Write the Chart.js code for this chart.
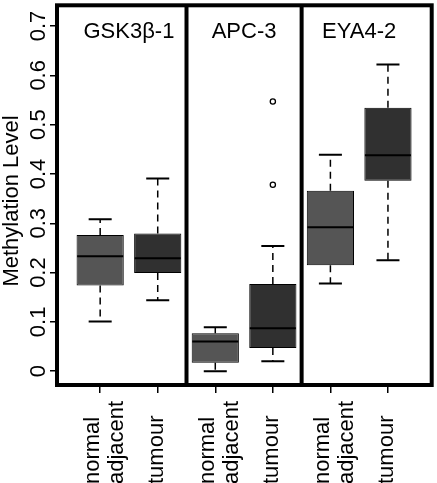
<!DOCTYPE html>
<html>
<head>
<meta charset="utf-8">
<script src="https://cdn.jsdelivr.net/npm/chart.js@4.4.1/dist/chart.umd.min.js"></script>
<style>
  html, body { margin: 0; padding: 0; background: #fff; }
  #wrap { width: 437px; height: 483px; position: relative; }
</style>
</head>
<body>
<div id="wrap"><canvas id="chart"></canvas></div>
<script>
// Three genes, each with normal adjacent / tumour boxes
var panelTitles = ['GSK3\u03b2-1', 'APC-3', 'EYA4-2'];
var panelCentres = [1.5, 3.5, 5.5];
var panelBreaks = [2.5, 4.5];
var groupLabels = [['normal', 'adjacent'], ['tumour'], ['normal', 'adjacent'], ['tumour'], ['normal', 'adjacent'], ['tumour']];
var positions = [1, 2, 3, 4, 5, 6];

var whiskerLow  = [0.101, 0.144, 0.000, 0.020, 0.178, 0.225];
var quartile1   = [0.174, 0.199, 0.017, 0.047, 0.215, 0.386];
var medians     = [0.233, 0.229, 0.060, 0.087, 0.292, 0.438];
var quartile3   = [0.276, 0.279, 0.077, 0.177, 0.366, 0.534];
var whiskerHigh = [0.308, 0.391, 0.089, 0.254, 0.439, 0.622];

var outlierX = [4, 4];
var outlierY = [0.378, 0.547];

var yTicks = [0, 0.1, 0.2, 0.3, 0.4, 0.5, 0.6, 0.7];

var boxColours = ['#555555', '#303030', '#555555', '#303030', '#555555', '#303030'];
var FONT = '"Liberation Sans", Arial, sans-serif';

var boxPlotPlugin = {
  id: 'boxPlot',
  beforeDatasetsDraw: function(chart) {
    var ctx = chart.ctx, xs = chart.scales.x, ys = chart.scales.y;
    ctx.save();
    ctx.strokeStyle = '#000';
    for (var i = 0; i < positions.length; i++) {
      var px = xs.getPixelForValue(positions[i]);
      var capL = xs.getPixelForValue(positions[i] - 0.2);
      var capR = xs.getPixelForValue(positions[i] + 0.2);
      // dashed whiskers
      ctx.lineWidth = 1.5;
      ctx.setLineDash([7, 5]);
      ctx.beginPath();
      ctx.moveTo(px, ys.getPixelForValue(quartile3[i]));
      ctx.lineTo(px, ys.getPixelForValue(whiskerHigh[i]));
      ctx.moveTo(px, ys.getPixelForValue(quartile1[i]));
      ctx.lineTo(px, ys.getPixelForValue(whiskerLow[i]));
      ctx.stroke();
      // caps
      ctx.setLineDash([]);
      ctx.lineWidth = 2;
      ctx.beginPath();
      ctx.moveTo(capL, ys.getPixelForValue(whiskerHigh[i]));
      ctx.lineTo(capR, ys.getPixelForValue(whiskerHigh[i]));
      ctx.moveTo(capL, ys.getPixelForValue(whiskerLow[i]));
      ctx.lineTo(capR, ys.getPixelForValue(whiskerLow[i]));
      ctx.stroke();
    }
    ctx.restore();
  },
  afterDatasetsDraw: function(chart) {
    var ctx = chart.ctx, xs = chart.scales.x, ys = chart.scales.y;
    ctx.save();
    ctx.strokeStyle = '#000';
    ctx.lineWidth = 2;
    ctx.beginPath();
    for (var i = 0; i < positions.length; i++) {
      var y = ys.getPixelForValue(medians[i]);
      ctx.moveTo(xs.getPixelForValue(positions[i] - 0.4), y);
      ctx.lineTo(xs.getPixelForValue(positions[i] + 0.4), y);
    }
    ctx.stroke();
    ctx.restore();
  },
  afterDraw: function(chart) {
    var ctx = chart.ctx, xs = chart.scales.x, ys = chart.scales.y, a = chart.chartArea;
    ctx.save();
    // panel frame and dividers
    ctx.strokeStyle = '#000';
    ctx.lineWidth = 4;
    ctx.strokeRect(a.left, a.top, a.right - a.left, a.bottom - a.top);
    ctx.beginPath();
    panelBreaks.forEach(function(b) {
      var x = xs.getPixelForValue(b);
      ctx.moveTo(x, a.top);
      ctx.lineTo(x, a.bottom);
    });
    ctx.stroke();

    ctx.fillStyle = '#000';
    ctx.font = '22px ' + FONT;
    ctx.textAlign = 'center';
    ctx.textBaseline = 'middle';
    panelTitles.forEach(function(t, i) {
      ctx.fillText(t, xs.getPixelForValue(panelCentres[i]), a.top + 27);
    });

    ctx.textBaseline = 'alphabetic';
    // y tick labels, rotated
    yTicks.forEach(function(v) {
      ctx.save();
      ctx.translate(45, ys.getPixelForValue(v));
      ctx.rotate(-Math.PI / 2);
      ctx.textAlign = 'center';
      ctx.fillText(String(v), 0, 0);
      ctx.restore();
    });
    // y axis title
    ctx.save();
    ctx.translate(18, 201);
    ctx.rotate(-Math.PI / 2);
    ctx.textAlign = 'center';
    ctx.fillText('Methylation Level', 0, 0);
    ctx.restore();
    // x tick labels, rotated, starting from the bottom
    groupLabels.forEach(function(lines, i) {
      var px = xs.getPixelForValue(positions[i]);
      var offs = lines.length === 2 ? [-1, 23] : [5];
      lines.forEach(function(t, j) {
        ctx.save();
        ctx.translate(px + offs[j], 484);
        ctx.rotate(-Math.PI / 2);
        ctx.textAlign = 'left';
        ctx.fillText(t, 0, 0);
        ctx.restore();
      });
    });
    ctx.restore();
  }
};

new Chart(document.getElementById('chart'), {
  type: 'bar',
  data: {
    datasets: [{
      type: 'bar',
      data: positions.map(function(p, i) { return { x: p, y: [quartile1[i], quartile3[i]] }; }),
      backgroundColor: boxColours,
      borderColor: '#000',
      borderWidth: 1,
      borderSkipped: false,
      barPercentage: 0.82,
      categoryPercentage: 1,
      grouped: false
    }, {
      type: 'scatter',
      data: outlierX.map(function(x, i) { return { x: x, y: outlierY[i] }; }),
      pointRadius: 2.6,
      pointBackgroundColor: '#fff',
      pointBorderColor: '#000',
      pointBorderWidth: 1.3
    }]
  },
  options: {
    responsive: true,
    maintainAspectRatio: false,
    animation: false,
    layout: { padding: { top: 2, right: 2, left: 0, bottom: 0 } },
    plugins: { legend: { display: false }, tooltip: { enabled: false } },
    scales: {
      x: {
        type: 'linear',
        offset: false,
        min: 0.25, max: 6.76,
        afterBuildTicks: function(s) { s.ticks = positions.map(function(v) { return { value: v }; }); },
        afterFit: function(s) { s.height = 98; },
        ticks: { display: false },
        border: { display: false },
        grid: { offset: false, drawOnChartArea: false, drawTicks: true, tickLength: 8, color: '#000', lineWidth: 1.5 }
      },
      y: {
        min: -0.028, max: 0.742,
        afterBuildTicks: function(s) { s.ticks = yTicks.map(function(v) { return { value: v }; }); },
        afterFit: function(s) { s.width = 57; },
        ticks: { display: false },
        border: { display: false },
        grid: { drawOnChartArea: false, drawTicks: true, tickLength: 7, color: '#000', lineWidth: 1.5 }
      }
    }
  },
  plugins: [boxPlotPlugin]
});
</script>
</body>
</html>
